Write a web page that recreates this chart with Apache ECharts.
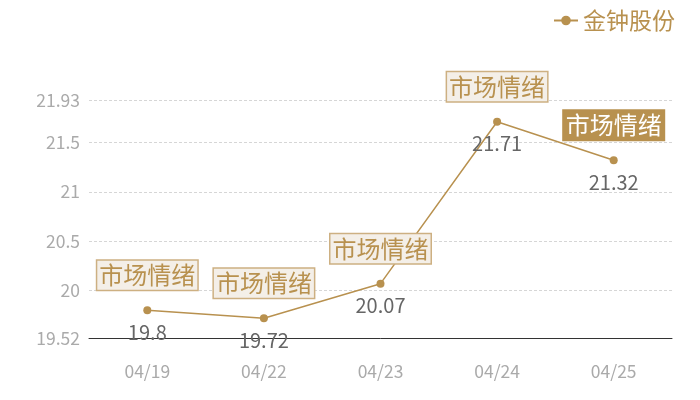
<!DOCTYPE html>
<html>
<head>
<meta charset="utf-8">
<script src="https://cdn.jsdelivr.net/npm/echarts@6/dist/echarts.min.js"></script>
<style>
html,body{margin:0;padding:0;background:#fff;}
#main{width:700px;height:400px;}
</style>
</head>
<body>
<div id="main"></div>
<script>
var dates = ['04/19', '04/22', '04/23', '04/24', '04/25'];
var prices = [19.8, 19.72, 20.07, 21.71, 21.32];
var markText = '市场情绪';
var highlightIdx = 4;
var yMin = 19.52, yMax = 21.93;

var gold = '#b8914f';
var font = '"Noto Sans CJK SC", "Noto Sans", sans-serif';

var chart = echarts.init(document.getElementById('main'));

var marks = [];
for (var i = 0; i < dates.length; i++) {
  var hl = i === highlightIdx;
  marks.push({
    coord: [i, prices[i]],
    label: {
      color: hl ? '#fff' : gold,
      backgroundColor: hl ? gold : '#f4efe8',
      borderColor: hl ? gold : '#cdb082'
    }
  });
}

var option = {
  animation: false,
  textStyle: { fontFamily: font },
  legend: {
    right: 20,
    top: 4,
    itemWidth: 24,
    itemHeight: 12,
    itemGap: 6,
    textStyle: { color: gold, fontSize: 23, fontFamily: font },
    data: ['金钟股份']
  },
  grid: { left: 89, right: 28, top: 100, bottom: 62 },
  xAxis: {
    type: 'category',
    data: dates,
    boundaryGap: true,
    axisLine: { lineStyle: { color: '#333', width: 1 } },
    axisTick: { show: false },
    axisLabel: { color: '#aaa', fontSize: 17.5, margin: 25 }
  },
  yAxis: {
    type: 'value',
    min: yMin,
    max: yMax,
    axisLine: { show: false },
    axisTick: { show: false },
    axisLabel: { color: '#aaa', fontSize: 17.5, margin: 9 },
    splitLine: { lineStyle: { color: '#d6d6d6', type: [3, 2] } }
  },
  series: [{
    name: '金钟股份',
    type: 'line',
    data: prices,
    symbol: 'circle',
    symbolSize: 8,
    lineStyle: { color: gold, width: 1.5 },
    itemStyle: { color: gold },
    label: {
      show: true,
      position: 'bottom',
      distance: 8,
      color: '#666',
      fontSize: 20
    },
    markPoint: {
      symbol: 'rect',
      symbolSize: 1,
      itemStyle: { color: 'transparent' },
      label: {
        show: true,
        formatter: markText,
        offset: [0, -35],
        fontSize: 24,
        padding: [3, 2, 2, 2],
        borderWidth: 1.5
      },
      data: marks
    }
  }]
};
chart.setOption(option);
</script>
</body>
</html>
